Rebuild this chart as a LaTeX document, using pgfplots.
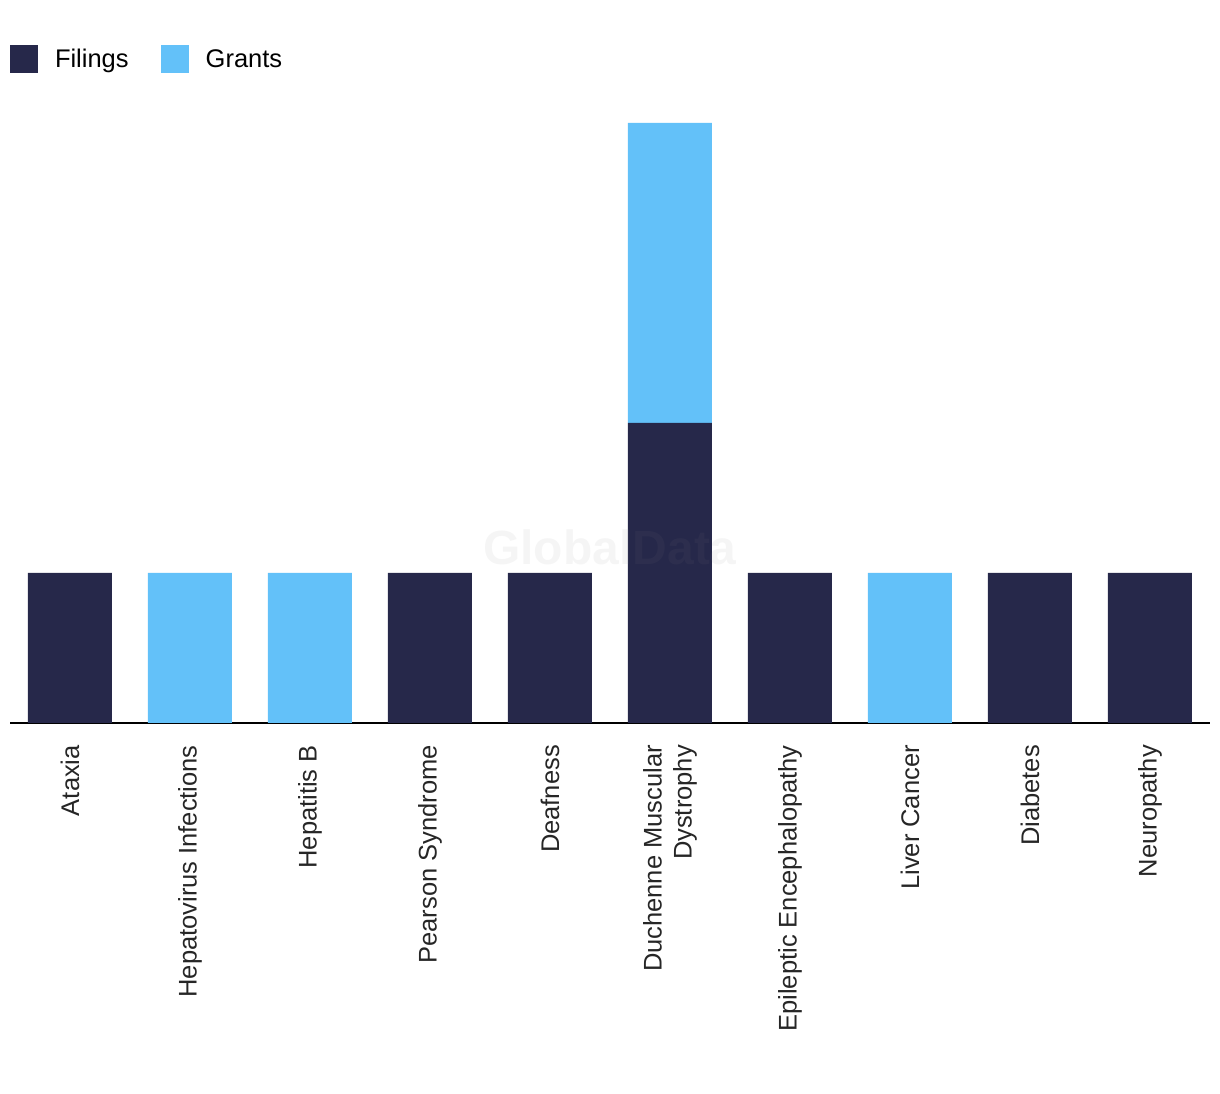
\documentclass[border=0pt]{standalone}
\usepackage{pgfplots}
\pgfplotsset{compat=1.18}
\usepackage{fontspec}
\setmainfont{Liberation Sans}
\definecolor{navy}{HTML}{26284A}
\definecolor{sky}{HTML}{63C1F9}
\begin{document}
\begin{tikzpicture}[x=1pt,y=1pt]
\path[use as bounding box] (0,0) rectangle (1220,1094);
\begin{axis}[
  at={(10pt,371pt)}, anchor=south west,
  scale only axis, width=1200pt, height=630pt,
  xmin=-0.5, xmax=9.5, ymin=0, ymax=4.2,
  ybar stacked, bar width=84pt,
  axis x line=bottom, axis y line=none,
  axis line style={-, line width=1.5pt, black},
  xtick={0,...,9}, major tick length=0pt,
  xticklabels={Ataxia, Hepatovirus Infections, Hepatitis B, Pearson Syndrome, Deafness, {Duchenne Muscular\\Dystrophy}, Epileptic Encephalopathy, Liver Cancer, Diabetes, Neuropathy},
  xticklabel style={rotate=90, anchor=east, align=right, font=\fontsize{25.5}{30}\selectfont, text=black!85, inner sep=0pt},
  xticklabel shift=22pt,
  legend style={at={(axis description cs:0,1)}, anchor=south west, draw=none, legend columns=2,
    inner sep=0pt, outer sep=0pt, yshift=20pt, font=\fontsize{25.5}{30}\selectfont,
    nodes={inner sep=0pt},
    /tikz/every even column/.append style={column sep=32pt},
    /tikz/every odd column/.append style={column sep=17pt}},
  legend cell align=left,
  legend image code/.code={\fill[#1] (0pt,-14pt) rectangle (28pt,14pt);},
]
\addplot[fill=navy, draw=none] coordinates {(0,1) (1,0) (2,0) (3,1) (4,1) (5,2) (6,1) (7,0) (8,1) (9,1)};
\addlegendentry{Filings}
\addplot[fill=sky, draw=none] coordinates {(0,0) (1,1) (2,1) (3,0) (4,0) (5,2) (6,0) (7,1) (8,0) (9,0)};
\addlegendentry{Grants}
\coordinate (wm) at (axis cs:4.5,1.17);
\end{axis}
\node[font=\bfseries\fontsize{48}{54}\selectfont, text=gray, opacity=0.08] at (wm) {GlobalData};
\end{tikzpicture}
\end{document}
